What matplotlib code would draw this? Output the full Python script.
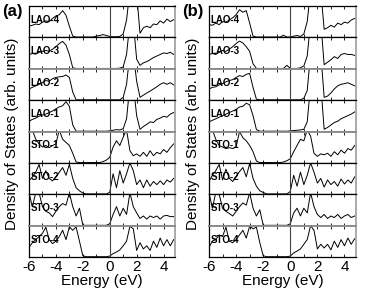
import numpy as np
import matplotlib
matplotlib.use("Agg")
import matplotlib.pyplot as plt

plt.rcParams['font.family'] = ['Liberation Sans', 'DejaVu Sans']

# energy grid (eV)
energy = [-6.0, -5.75, -5.5, -5.25, -5.0, -4.75, -4.5, -4.25, -4.0, -3.75, -3.5,
          -3.25, -3.0, -2.75, -2.5, -2.25, -2.0, -1.75, -1.5, -1.25, -1.0, -0.75,
          -0.5, -0.25, 0.0, 0.25, 0.5, 0.75, 1.0, 1.25, 1.5, 1.75, 2.0,
          2.25, 2.5, 2.75, 3.0, 3.25, 3.5, 3.75, 4.0, 4.25, 4.5, 4.75]

layers = ["LAO-4", "LAO-3", "LAO-2", "LAO-1", "STO-1", "STO-2", "STO-3", "STO-4"]

# panel (a), normalised dos per layer (1 = top of the strip)
lao4_a = [0.35, 0.38, 0.42, 0.40, 0.48, 0.52, 0.50, 0.60, 0.68, 0.72, 0.85,
          0.70, 0.35, 0.03, 0.00, 0.00, 0.00, 0.00, 0.00, 0.00, 0.03, 0.05,
          0.08, 0.05, 0.02, 0.01, 0.01, 0.02, 0.10, 0.55, 1.50, 1.50, 1.40,
          0.12, 0.30, 0.35, 0.30, 0.42, 0.40, 0.52, 0.45, 0.58, 0.50, 0.56]
lao3_a = [0.45, 0.48, 0.46, 0.52, 0.55, 0.58, 0.55, 0.62, 0.70, 0.80, 0.87,
          0.75, 0.45, 0.02, 0.00, 0.00, 0.00, 0.00, 0.00, 0.00, 0.00, 0.00,
          0.00, 0.00, 0.00, 0.00, 0.00, 0.01, 0.05, 0.45, 1.50, 1.50, 0.30,
          0.10, 0.18, 0.22, 0.28, 0.35, 0.40, 0.45, 0.50, 0.48, 0.52, 0.45]
lao2_a = [0.35, 0.40, 0.45, 0.50, 0.55, 0.62, 0.60, 0.68, 0.72, 0.74, 0.75,
          0.80, 0.72, 0.25, 0.00, 0.00, 0.00, 0.00, 0.00, 0.00, 0.00, 0.00,
          0.00, 0.00, 0.00, 0.00, 0.00, 0.00, 0.08, 0.50, 1.50, 1.50, 0.60,
          0.08, 0.15, 0.22, 0.28, 0.35, 0.42, 0.50, 0.55, 0.50, 0.55, 0.48]
lao1_a = [0.32, 0.38, 0.42, 0.48, 0.52, 0.55, 0.60, 0.65, 0.72, 0.78, 0.82,
          0.95, 0.80, 0.20, 0.00, 0.00, 0.00, 0.00, 0.00, 0.00, 0.00, 0.00,
          0.00, 0.00, 0.01, 0.03, 0.05, 0.04, 0.08, 0.40, 1.50, 1.50, 0.50,
          0.06, 0.15, 0.22, 0.30, 0.28, 0.38, 0.42, 0.48, 0.45, 0.55, 0.60]
sto1_a = [1.05, 1.05, 0.75, 0.60, 0.50, 0.55, 0.48, 0.55, 0.60, 1.05, 0.75,
          0.65, 0.55, 0.30, 0.02, 0.00, 0.00, 0.00, 0.00, 0.00, 0.00, 0.00,
          0.03, 0.08, 0.17, 0.50, 0.70, 0.55, 0.82, 1.05, 0.38, 0.22, 0.28,
          0.20, 0.33, 0.20, 0.38, 0.22, 0.33, 0.28, 0.42, 0.33, 0.48, 0.60]
sto2_a = [0.42, 0.55, 0.70, 0.95, 0.50, 0.75, 0.50, 0.42, 0.55, 0.70, 0.85,
          0.60, 0.95, 0.50, 0.20, 0.10, 0.03, 0.00, 0.00, 0.00, 0.00, 0.00,
          0.00, 0.00, 0.05, 0.65, 0.20, 0.75, 0.35, 0.65, 1.00, 0.75, 0.30,
          0.45, 0.20, 0.45, 0.25, 0.40, 0.30, 0.42, 0.30, 0.45, 0.38, 0.50]
sto3_a = [1.05, 0.60, 1.05, 1.05, 0.60, 0.45, 0.40, 0.28, 0.45, 0.60, 0.70,
          0.65, 1.05, 0.60, 0.30, 0.55, 0.00, 0.00, 0.00, 0.00, 0.00, 0.00,
          0.00, 0.00, 0.05, 0.35, 0.60, 0.30, 0.55, 0.35, 1.05, 0.60, 0.40,
          0.22, 0.30, 0.20, 0.30, 0.25, 0.30, 0.20, 0.30, 0.32, 0.28, 0.28]
sto4_a = [0.30, 0.45, 0.55, 0.65, 0.75, 0.95, 0.55, 0.42, 0.50, 0.65, 0.85,
          0.55, 0.96, 0.85, 0.96, 0.50, 0.03, 0.00, 0.00, 0.00, 0.00, 0.00,
          0.00, 0.00, 0.02, 0.10, 0.15, 0.22, 0.35, 0.50, 0.98, 0.90, 0.20,
          0.45, 0.25, 0.35, 0.20, 0.50, 0.30, 0.60, 0.35, 0.55, 0.35, 0.55]

# panel (b)
lao4_b = [0.40, 0.38, 0.45, 0.40, 0.50, 0.48, 0.55, 0.62, 0.72, 0.88, 0.80,
          0.85, 0.45, 0.03, 0.00, 0.00, 0.00, 0.00, 0.00, 0.00, 0.00, 0.00,
          0.06, 0.00, 0.00, 0.03, 0.05, 0.02, 0.10, 0.50, 1.50, 1.50, 1.50,
          1.50, 0.25, 0.30, 0.38, 0.32, 0.45, 0.40, 0.48, 0.45, 0.55, 0.60]
lao3_b = [0.45, 0.48, 0.45, 0.52, 0.58, 0.55, 0.62, 0.70, 0.80, 0.88, 0.82,
          0.70, 0.55, 0.15, 0.00, 0.00, 0.00, 0.00, 0.00, 0.00, 0.00, 0.00,
          0.00, 0.10, 0.00, 0.00, 0.00, 0.02, 0.08, 0.40, 1.50, 1.50, 1.50,
          1.50, 0.12, 0.20, 0.28, 0.38, 0.32, 0.45, 0.48, 0.45, 0.45, 0.42]
lao2_b = [0.35, 0.40, 0.42, 0.48, 0.52, 0.58, 0.62, 0.65, 0.72, 0.78, 0.75,
          0.82, 0.85, 0.40, 0.02, 0.00, 0.00, 0.00, 0.00, 0.00, 0.00, 0.00,
          0.00, 0.00, 0.00, 0.00, 0.00, 0.00, 0.05, 0.30, 1.50, 1.50, 1.50,
          1.50, 0.08, 0.12, 0.22, 0.35, 0.45, 0.50, 0.52, 0.55, 0.50, 0.45]
lao1_b = [0.30, 0.35, 0.40, 0.45, 0.50, 0.55, 0.60, 0.65, 0.70, 0.78, 0.80,
          0.90, 0.85, 0.50, 0.05, 0.00, 0.00, 0.00, 0.00, 0.00, 0.00, 0.00,
          0.00, 0.00, 0.01, 0.02, 0.03, 0.04, 0.06, 0.30, 1.50, 1.50, 1.50,
          1.50, 0.06, 0.12, 0.20, 0.28, 0.32, 0.40, 0.45, 0.50, 0.55, 0.62]
sto1_b = [1.05, 1.05, 0.75, 0.55, 0.50, 0.45, 0.48, 0.45, 0.50, 1.00, 0.80,
          0.70, 0.55, 0.35, 0.05, 0.00, 0.00, 0.00, 0.00, 0.00, 0.00, 0.00,
          0.02, 0.06, 0.12, 0.35, 0.55, 0.75, 0.70, 1.05, 0.85, 0.30, 0.20,
          0.28, 0.25, 0.30, 0.20, 0.35, 0.25, 0.40, 0.30, 0.45, 0.40, 0.55]
sto2_b = [0.40, 0.60, 0.75, 0.95, 0.45, 0.80, 0.50, 0.40, 0.55, 0.72, 0.85,
          0.55, 0.98, 0.50, 0.25, 0.10, 0.05, 0.00, 0.00, 0.00, 0.00, 0.00,
          0.00, 0.00, 0.08, 0.60, 0.25, 0.70, 0.30, 0.60, 1.00, 0.70, 0.35,
          0.50, 0.22, 0.45, 0.30, 0.40, 0.25, 0.48, 0.32, 0.45, 0.35, 0.55]
sto3_b = [1.05, 0.55, 1.05, 1.00, 0.55, 0.45, 0.38, 0.30, 0.45, 0.60, 0.72,
          0.65, 1.05, 0.55, 0.30, 0.50, 0.00, 0.00, 0.00, 0.00, 0.00, 0.00,
          0.00, 0.00, 0.05, 0.40, 0.55, 0.30, 0.55, 0.40, 1.05, 0.60, 0.35,
          0.25, 0.35, 0.22, 0.30, 0.25, 0.35, 0.22, 0.30, 0.35, 0.25, 0.30]
sto4_b = [0.30, 0.50, 0.55, 0.70, 0.65, 0.95, 0.50, 0.45, 0.55, 0.70, 0.85,
          0.60, 0.98, 0.90, 0.95, 0.45, 0.03, 0.00, 0.00, 0.00, 0.00, 0.00,
          0.00, 0.00, 0.02, 0.12, 0.18, 0.25, 0.40, 0.55, 1.00, 0.85, 0.25,
          0.40, 0.28, 0.40, 0.22, 0.50, 0.30, 0.55, 0.35, 0.60, 0.40, 0.58]

panel_a = [lao4_a, lao3_a, lao2_a, lao1_a, sto1_a, sto2_a, sto3_a, sto4_a]
panel_b = [lao4_b, lao3_b, lao2_b, lao1_b, sto1_b, sto2_b, sto3_b, sto4_b]

xticks = [-6, -4, -2, 0, 2, 4]

fig = plt.figure(figsize=(3.74, 2.94), dpi=100)

bottom = 1 - 257 / 294
top = 1 - 6 / 294
row_h = (top - bottom) / 8

# separators that look grey in the scan
grey_edges = [2, 4, 7]


def draw_panel(x0, x1, curves, tag, ylab_x):
    left = x0 / 374
    width = (x1 - x0) / 374
    for i, (name, dos) in enumerate(zip(layers, curves)):
        ax = fig.add_axes([left, top - (i + 1) * row_h, width, row_h])
        ax.plot(energy, dos, color='black', lw=0.7)
        ax.axvline(0, color='#444444', lw=0.8)
        ax.set_xlim(-6, 4.85)
        ax.set_ylim(-0.01, 1.0)
        ax.set_yticks([])
        ax.set_xticks(xticks)
        ax.set_xticks([-5, -3, -1, 1, 3], minor=True)
        ax.tick_params(axis='x', which='both', direction='in', top=True,
                       bottom=True, length=2.5, width=0.6, labelsize=11, pad=2)
        for s in ax.spines.values():
            s.set_linewidth(0.9)
        ax.spines['right'].set_color('#aaaaaa')
        ax.spines['right'].set_linewidth(1.4)
        if i in grey_edges:
            ax.spines['top'].set_color('#888888')
            ax.spines['top'].set_linewidth(1.3)
        if i + 1 in grey_edges:
            ax.spines['bottom'].set_color('#888888')
            ax.spines['bottom'].set_linewidth(1.3)
        ax.text(-5.9, 0.55, name, fontsize=7, fontweight='bold',
                family=['Liberation Sans Narrow', 'Liberation Sans'],
                va='center', ha='left')
        if i < 7:
            ax.tick_params(axis='x', labelbottom=False)
        else:
            ax.set_xticklabels(['-6', '-4', '-2', '0', '2', '4'])
            ax.set_xlabel('Energy (eV)', fontsize=11, labelpad=0)
    fig.text(ylab_x, 0.545, 'Density of States (arb. units)', rotation=90,
             fontsize=11, ha='center', va='center')
    fig.text((x0 - 27) / 374, 0.985, tag, fontsize=12, fontweight='bold',
             ha='left', va='top')


draw_panel(29, 175, panel_a, '(a)', 12 / 374)
draw_panel(209, 356, panel_b, '(b)', 193 / 374)

fig.savefig('out.png', dpi=100)
